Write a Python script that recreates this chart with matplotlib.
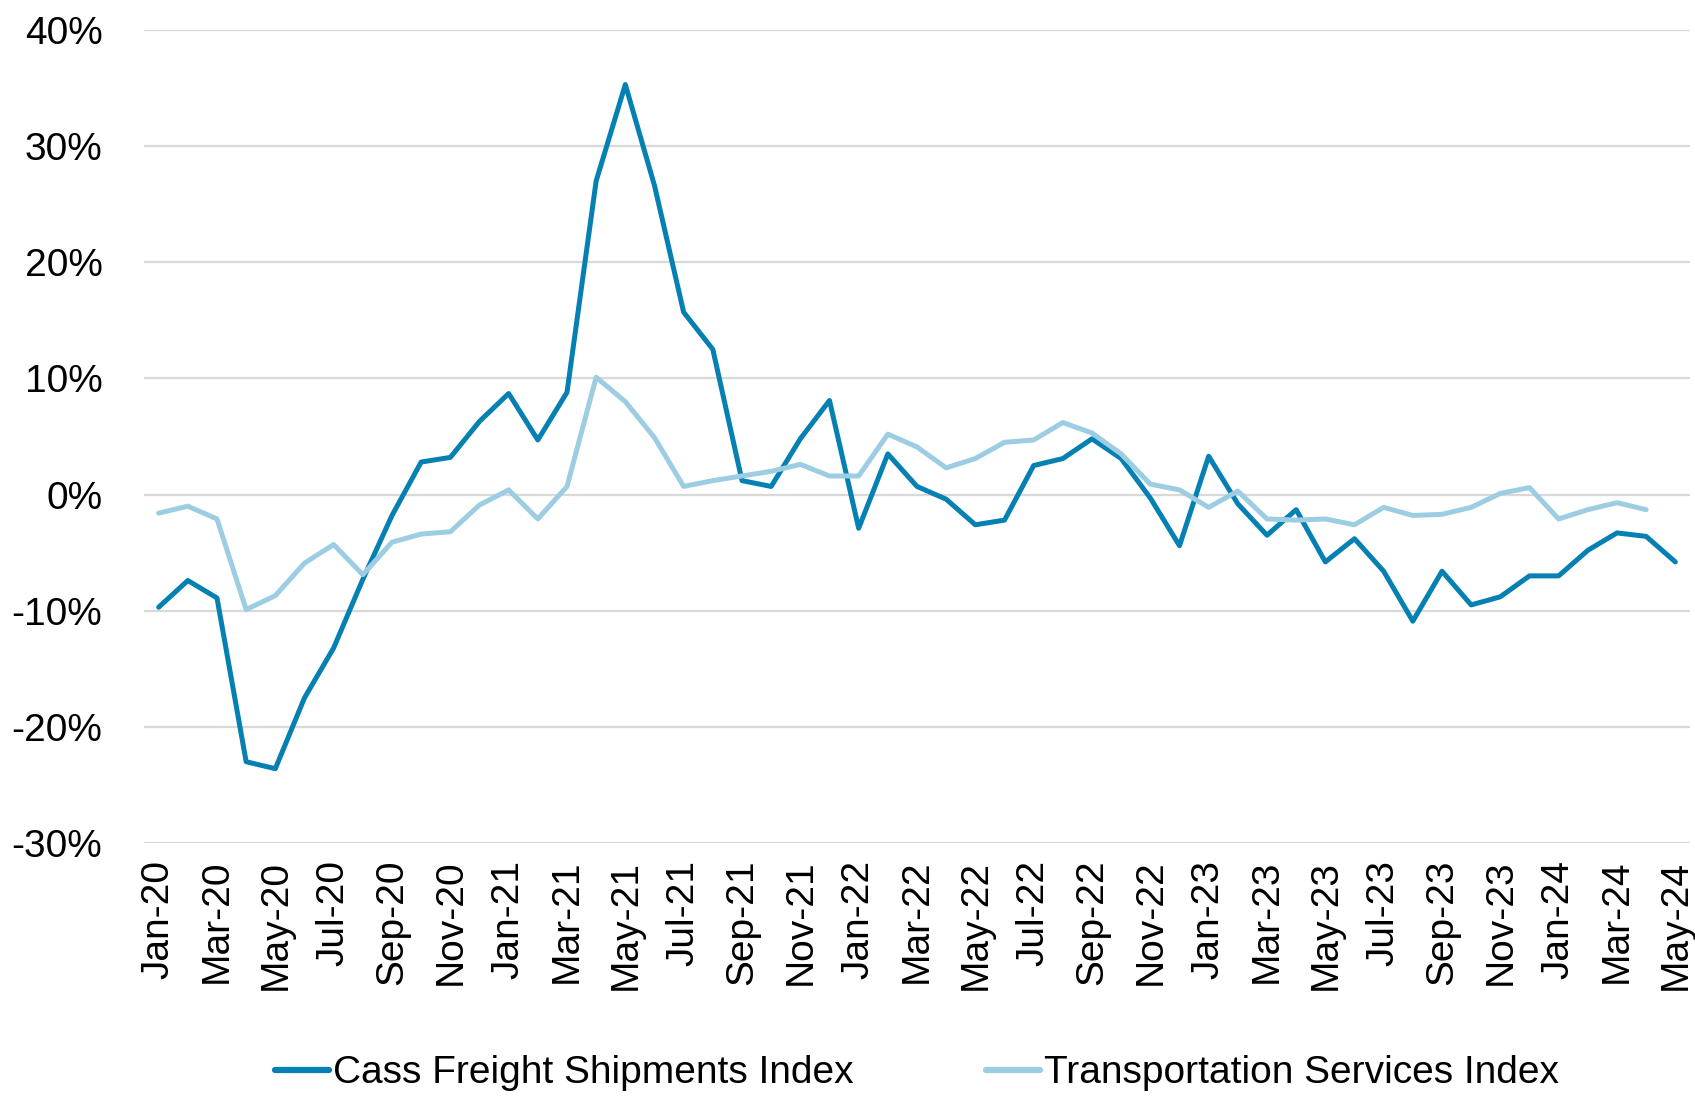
import matplotlib
matplotlib.use("Agg")
import matplotlib.pyplot as plt
import numpy as np
import pandas as pd
from matplotlib.ticker import FuncFormatter

# monthly y/y change, Jan-20 .. May-24
months = pd.date_range("2020-01-01", "2024-05-01", freq="MS")
month_labels = [d.strftime("%b-%y") for d in months]

cass = [
    -9.7, -7.4, -8.9, -23.0, -23.6, -17.5, -13.2, -7.3, -1.8, 2.8, 3.2, 6.3,
    8.7, 4.7, 8.8, 27.0, 35.3, 26.6, 15.7, 12.5, 1.2, 0.7, 4.8, 8.1,
    -2.9, 3.5, 0.7, -0.4, -2.6, -2.2, 2.5, 3.1, 4.8, 3.1, -0.3, -4.4,
    3.3, -0.8, -3.5, -1.3, -5.8, -3.8, -6.6, -10.9, -6.6, -9.5, -8.8, -7.0,
    -7.0, -4.8, -3.3, -3.6, -5.8,
]
tsi = [
    -1.6, -1.0, -2.1, -9.9, -8.7, -5.9, -4.3, -6.9, -4.1, -3.4, -3.2, -0.9,
    0.4, -2.1, 0.7, 10.1, 8.0, 4.9, 0.7, 1.2, 1.6, 2.0, 2.6, 1.6,
    1.6, 5.2, 4.1, 2.3, 3.1, 4.5, 4.7, 6.2, 5.3, 3.5, 0.9, 0.4,
    -1.1, 0.3, -2.1, -2.2, -2.1, -2.6, -1.1, -1.8, -1.7, -1.1, 0.1, 0.6,
    -2.1, -1.3, -0.7, -1.3,
]

DARK = "#0580B2"
LIGHT = "#9CCDE2"

plt.rcParams["font.family"] = ["Liberation Sans", "DejaVu Sans"]

fig = plt.figure(figsize=(16.95, 11.01), dpi=100)
ax = fig.add_axes([0.085, 0.2343, 0.912, 0.7385])

x = np.arange(len(months))
ax.plot(x, cass, color=DARK, lw=3.6, label="Cass Freight Shipments Index",
        solid_joinstyle="round", solid_capstyle="round")
ax.plot(x[:len(tsi)], tsi, color=LIGHT, lw=3.6, label="Transportation Services Index",
        solid_joinstyle="round", solid_capstyle="round")

ax.set_xlim(-0.5, len(months) - 0.5)
ax.set_ylim(-30, 40)
ax.set_yticks(np.arange(-30, 41, 10))
ax.yaxis.set_major_formatter(FuncFormatter(lambda v, _: f"{v:.0f}%"))
ax.set_xticks(x[::2])
ax.set_xticklabels(month_labels[::2], rotation=90)

ax.grid(axis="y", color="#D9D9D9", lw=1.6)
ax.set_axisbelow(True)
for s in ax.spines.values():
    s.set_visible(False)
ax.tick_params(length=0, labelsize=28, colors="black")
ax.tick_params(axis="y", pad=30)
ax.tick_params(axis="x", pad=12)

# legend sits at the very bottom edge, kept just inside the canvas
leg = fig.legend(loc="center", bbox_to_anchor=(0.541, 0.025), ncol=2, frameon=False,
                 fontsize=28, handlelength=1.4, handletextpad=0.1, columnspacing=3.4,
                 borderpad=0.1)
for h in leg.get_lines():
    h.set_linewidth(4.5)

fig.savefig("out.png", dpi=100, facecolor="white")
